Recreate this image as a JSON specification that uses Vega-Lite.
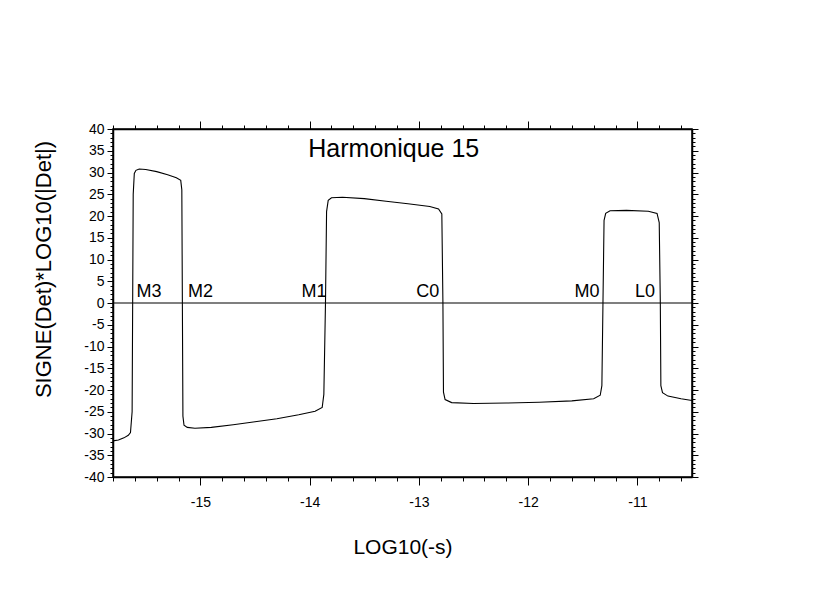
{
  "$schema": "https://vega.github.io/schema/vega-lite/v6.json",
  "autosize": "none",
  "width": 579,
  "height": 348,
  "padding": {"left": 113, "top": 129, "right": 148, "bottom": 124},
  "background": "white",
  "config": {
    "view": {"stroke": "black", "strokeWidth": 1.5},
    "font": "Liberation Sans",
    "axis": {
      "grid": false,
      "domainColor": "black",
      "domainWidth": 1.5,
      "tickColor": "black",
      "tickWidth": 1,
      "labelColor": "black",
      "titleColor": "black",
      "labelFont": "Liberation Sans",
      "titleFont": "Liberation Sans",
      "titleFontWeight": "normal",
      "labelOverlap": false
    }
  },
  "datasets": {
    "curve": [
      {"x": -15.80, "y": -31.7},
      {"x": -15.75, "y": -31.5},
      {"x": -15.70, "y": -31.0},
      {"x": -15.66, "y": -30.4},
      {"x": -15.64, "y": -29.8},
      {"x": -15.625, "y": -25},
      {"x": -15.62, "y": 0},
      {"x": -15.615, "y": 25},
      {"x": -15.605, "y": 29.8},
      {"x": -15.59, "y": 30.5},
      {"x": -15.56, "y": 30.8},
      {"x": -15.50, "y": 30.7},
      {"x": -15.40, "y": 30.2},
      {"x": -15.30, "y": 29.5},
      {"x": -15.22, "y": 28.8},
      {"x": -15.18, "y": 28.2},
      {"x": -15.17, "y": 26},
      {"x": -15.165, "y": 0},
      {"x": -15.16, "y": -26},
      {"x": -15.15, "y": -28.1},
      {"x": -15.12, "y": -28.6},
      {"x": -15.05, "y": -28.8},
      {"x": -14.90, "y": -28.6},
      {"x": -14.70, "y": -28.0},
      {"x": -14.50, "y": -27.3},
      {"x": -14.30, "y": -26.6},
      {"x": -14.10, "y": -25.7},
      {"x": -13.95, "y": -24.9},
      {"x": -13.885, "y": -24.0},
      {"x": -13.87, "y": -21},
      {"x": -13.855, "y": 0},
      {"x": -13.845, "y": 21},
      {"x": -13.83, "y": 23.6},
      {"x": -13.80, "y": 24.2},
      {"x": -13.70, "y": 24.3},
      {"x": -13.50, "y": 24.0},
      {"x": -13.30, "y": 23.4},
      {"x": -13.10, "y": 22.8},
      {"x": -12.90, "y": 22.2},
      {"x": -12.82, "y": 21.6},
      {"x": -12.79, "y": 20.5},
      {"x": -12.78, "y": 0},
      {"x": -12.775, "y": -20.5},
      {"x": -12.76, "y": -22.2},
      {"x": -12.70, "y": -22.9},
      {"x": -12.50, "y": -23.1},
      {"x": -12.20, "y": -23.0},
      {"x": -11.90, "y": -22.8},
      {"x": -11.60, "y": -22.5},
      {"x": -11.40, "y": -22.0},
      {"x": -11.34, "y": -21.2},
      {"x": -11.325, "y": -19},
      {"x": -11.315, "y": 0},
      {"x": -11.305, "y": 19},
      {"x": -11.29, "y": 20.6},
      {"x": -11.25, "y": 21.2},
      {"x": -11.10, "y": 21.3},
      {"x": -10.90, "y": 21.1},
      {"x": -10.82, "y": 20.6},
      {"x": -10.80, "y": 18.5},
      {"x": -10.79, "y": 0},
      {"x": -10.785, "y": -19},
      {"x": -10.77, "y": -20.6},
      {"x": -10.72, "y": -21.4},
      {"x": -10.60, "y": -22.0},
      {"x": -10.50, "y": -22.4}
    ],
    "labels": [
      {"x": -15.47, "y": 1.4, "label": "M3", "size": 18},
      {"x": -15.00, "y": 1.4, "label": "M2", "size": 18},
      {"x": -13.96, "y": 1.4, "label": "M1", "size": 18},
      {"x": -12.92, "y": 1.4, "label": "C0", "size": 18},
      {"x": -11.46, "y": 1.4, "label": "M0", "size": 18},
      {"x": -10.93, "y": 1.4, "label": "L0", "size": 18},
      {"x": -13.23, "y": 33.6, "label": "Harmonique 15", "size": 25}
    ]
  },
  "layer": [
    {
      "data": {"name": "curve"},
      "mark": {"type": "line", "color": "black", "strokeWidth": 1.1, "clip": true},
      "encoding": {
        "x": {
          "field": "x", "type": "quantitative",
          "scale": {"domain": [-15.8, -10.5], "nice": false, "zero": false},
          "axis": {
            "orient": "bottom",
            "title": "LOG10(-s)",
            "titleFontSize": 21,
            "titlePadding": 27,
            "values": [-15.8,-15.6,-15.4,-15.2,-15,-14.8,-14.6,-14.4,-14.2,-14,-13.8,-13.6,-13.4,-13.2,-13,-12.8,-12.6,-12.4,-12.2,-12,-11.8,-11.6,-11.4,-11.2,-11,-10.8,-10.6],
            "tickSize": {"condition": {"test": "abs(datum.value - round(datum.value)) < 0.001", "value": 8}, "value": 4},
            "labelExpr": "abs(datum.value - round(datum.value)) < 0.001 ? '' + round(datum.value) : ''",
            "labelFontSize": 14,
            "labelPadding": 10
          }
        },
        "y": {
          "field": "y", "type": "quantitative",
          "scale": {"domain": [-40, 40], "nice": false},
          "axis": {
            "orient": "left",
            "title": "SIGNE(Det)*LOG10(|Det|)",
            "titleFontSize": 22,
            "titlePadding": 28,
            "titleY": 140,
            "values": [-40,-39,-38,-37,-36,-35,-34,-33,-32,-31,-30,-29,-28,-27,-26,-25,-24,-23,-22,-21,-20,-19,-18,-17,-16,-15,-14,-13,-12,-11,-10,-9,-8,-7,-6,-5,-4,-3,-2,-1,0,1,2,3,4,5,6,7,8,9,10,11,12,13,14,15,16,17,18,19,20,21,22,23,24,25,26,27,28,29,30,31,32,33,34,35,36,37,38,39,40],
            "tickSize": {"condition": {"test": "datum.value % 5 === 0", "value": 6}, "value": 3},
            "labelExpr": "datum.value % 5 === 0 ? '' + datum.value : ''",
            "labelFontSize": 14,
            "labelPadding": 3
          }
        }
      }
    },
    {
      "data": {"values": [{"y": 0}]},
      "mark": {"type": "rule", "color": "black", "strokeWidth": 1.2},
      "encoding": {
        "y": {"field": "y", "type": "quantitative", "axis": null}
      }
    },
    {
      "data": {"name": "labels"},
      "mark": {"type": "text", "color": "black", "baseline": "alphabetic", "align": "center", "font": "Liberation Sans"},
      "encoding": {
        "x": {
          "field": "x", "type": "quantitative",
          "axis": {
            "orient": "top",
            "title": null,
            "labels": false,
            "values": [-15.8,-15.6,-15.4,-15.2,-15,-14.8,-14.6,-14.4,-14.2,-14,-13.8,-13.6,-13.4,-13.2,-13,-12.8,-12.6,-12.4,-12.2,-12,-11.8,-11.6,-11.4,-11.2,-11,-10.8,-10.6],
            "tickSize": {"condition": {"test": "abs(datum.value - round(datum.value)) < 0.001", "value": 8}, "value": 4}
          }
        },
        "y": {
          "field": "y", "type": "quantitative",
          "axis": {
            "orient": "right",
            "title": null,
            "labels": false,
            "values": [-40,-39,-38,-37,-36,-35,-34,-33,-32,-31,-30,-29,-28,-27,-26,-25,-24,-23,-22,-21,-20,-19,-18,-17,-16,-15,-14,-13,-12,-11,-10,-9,-8,-7,-6,-5,-4,-3,-2,-1,0,1,2,3,4,5,6,7,8,9,10,11,12,13,14,15,16,17,18,19,20,21,22,23,24,25,26,27,28,29,30,31,32,33,34,35,36,37,38,39,40],
            "tickSize": {"condition": {"test": "datum.value % 5 === 0", "value": 6}, "value": 3}
          }
        },
        "text": {"field": "label"},
        "size": {"field": "size", "type": "quantitative", "scale": null}
      }
    }
  ],
  "resolve": {"axis": {"x": "independent", "y": "independent"}}
}
